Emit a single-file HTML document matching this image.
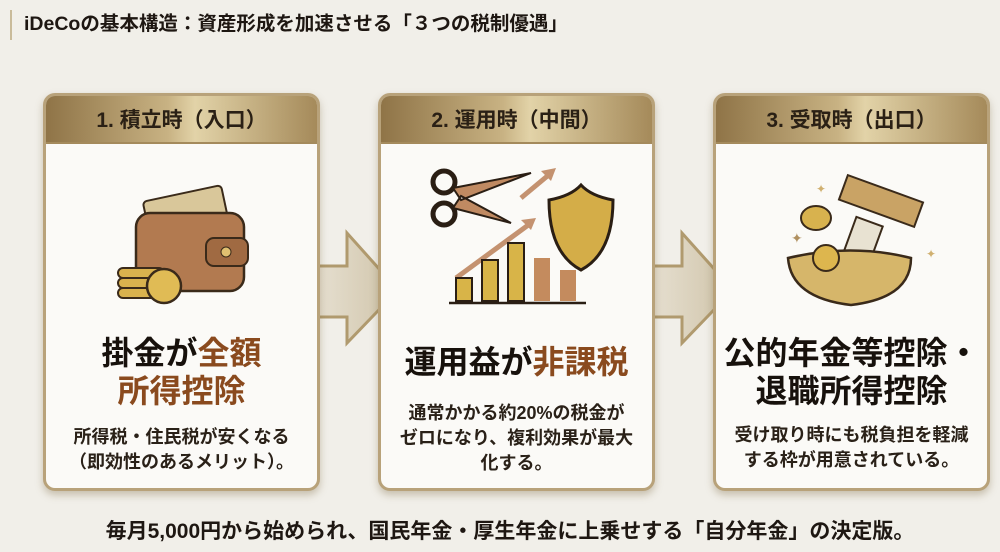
<!DOCTYPE html>
<html><head><meta charset="utf-8"><style>
*{margin:0;padding:0;box-sizing:border-box}
body{width:1000px;height:552px;background:#f1efe9;font-family:"Liberation Sans","Noto Sans CJK JP",sans-serif;position:relative;overflow:hidden;color:#1e1712}
.title{position:absolute;left:10px;top:10px;height:30px;border-left:2px solid #c9bb9a;padding-left:12px;font-size:19.5px;font-weight:bold;line-height:28px;color:#1e1712}
.card{position:absolute;top:93px;width:277px;height:398px;border-radius:12px;background:#fbfaf7;border:3px solid #b8a27a;box-shadow:0 4px 8px rgba(120,100,60,.35);overflow:hidden}
.hd{height:48px;background:linear-gradient(90deg,#8f7447,#c8b283 45%,#e2d3a8 55%,#a58a5a);text-align:center;font-size:21px;font-weight:bold;line-height:50px;color:#2a2015;border-bottom:2px solid #a48a5c}
.main{position:absolute;left:-10px;right:-10px;text-align:center;font-weight:bold;font-size:32px;line-height:38px;color:#17110c}
.main span{color:#8a4a1e}
.desc{position:absolute;left:-10px;right:-10px;text-align:center;font-size:18px;line-height:25px;font-weight:bold;color:#2a2118}
.ico{position:absolute;left:0;right:0;top:62px;height:150px}
.bottom{position:absolute;left:0;width:1020px;top:515px;text-align:center;font-size:21px;font-weight:bold}
</style></head><body>
<div class="title">iDeCoの基本構造：資産形成を加速させる「３つの税制優遇」</div>

<svg style="position:absolute;left:0;top:0" width="1000" height="552">
<defs><linearGradient id="ag" x1="0" x2="1"><stop offset="0" stop-color="#e8e2d4"/><stop offset="1" stop-color="#cfc3a8"/></linearGradient></defs>
<polygon points="310,266 347,266 347,233 398,290 347,343 347,317 310,317" fill="url(#ag)" stroke="#b09a6e" stroke-width="3"/>
<polygon points="645,266 682,266 682,233 733,290 682,343 682,317 645,317" fill="url(#ag)" stroke="#b09a6e" stroke-width="3"/>
</svg>

<div class="card" style="left:43px">
<div class="hd">1. 積立時（入口）</div>
<svg class="ico" viewBox="0 0 277 150">
<rect x="100" y="35" width="80" height="45" rx="4" fill="#d9c79a" stroke="#3a2a1a" stroke-width="2" transform="rotate(-12 140 55)"/>
<rect x="90" y="55" width="108" height="78" rx="14" fill="#b27a50" stroke="#3a2a1a" stroke-width="2.5"/>
<rect x="160" y="80" width="42" height="28" rx="8" fill="#a06a42" stroke="#3a2a1a" stroke-width="2"/>
<circle cx="180" cy="94" r="5" fill="#e0c070" stroke="#3a2a1a"/>
<rect x="72" y="110" width="46" height="10" rx="5" fill="#d9b24e" stroke="#3a2a1a" stroke-width="2"/>
<rect x="72" y="120" width="46" height="10" rx="5" fill="#d9b24e" stroke="#3a2a1a" stroke-width="2"/>
<rect x="72" y="130" width="46" height="10" rx="5" fill="#d9b24e" stroke="#3a2a1a" stroke-width="2"/>
<circle cx="118" cy="128" r="17" fill="#e0bb55" stroke="#3a2a1a" stroke-width="2.5"/>
</svg>
<div class="main" style="top:238px">掛金が<span>全額</span><br><span>所得控除</span></div>
<div class="desc" style="top:329px">所得税・住民税が安くなる<br>（即効性のあるメリット）。</div>
</div>

<div class="card" style="left:378px">
<div class="hd">2. 運用時（中間）</div>
<svg class="ico" viewBox="0 0 277 150">
<circle cx="63" cy="24" r="11" fill="none" stroke="#2a1e14" stroke-width="5"/>
<circle cx="63" cy="56" r="11" fill="none" stroke="#2a1e14" stroke-width="5"/>
<path d="M72 30 L150 15 L80 42Z M72 50 L130 65 L80 38Z" fill="#c08a62" stroke="#2a1e14" stroke-width="2"/>
<path d="M75 120 L150 65" stroke="#c49270" stroke-width="5"/><path d="M155 60 L140 62 L150 72Z" fill="#c49270"/>
<path d="M140 40 L170 15" stroke="#c49270" stroke-width="5"/><path d="M175 10 L160 13 L170 23Z" fill="#c49270"/>
<rect x="75" y="120" width="16" height="23" fill="#d8b448" stroke="#2a1e14" stroke-width="2"/>
<rect x="101" y="102" width="16" height="41" fill="#d8b448" stroke="#2a1e14" stroke-width="2"/>
<rect x="127" y="85" width="16" height="58" fill="#d8b448" stroke="#2a1e14" stroke-width="2"/>
<rect x="153" y="100" width="16" height="43" fill="#c48b5e"/>
<rect x="179" y="112" width="16" height="31" fill="#c48b5e"/>
<path d="M68 145 H205" stroke="#2a1e14" stroke-width="2.5"/>
<path d="M168 42 Q190 38 200 27 Q210 38 232 42 Q232 95 200 112 Q168 95 168 42Z" fill="#d4ad48" stroke="#2a1e14" stroke-width="3"/>
</svg>
<div class="main" style="top:247px">運用益が<span>非課税</span></div>
<div class="desc" style="top:305px">通常かかる約20%の税金が<br>ゼロになり、複利効果が最大<br>化する。</div>
</div>

<div class="card" style="left:713px">
<div class="hd">3. 受取時（出口）</div>
<svg class="ico" viewBox="0 0 277 150">
<rect x="125" y="30" width="80" height="26" fill="#c9a365" stroke="#3a2a1a" stroke-width="2" transform="rotate(20 165 43)"/>
<rect x="130" y="62" width="28" height="55" fill="#e8e2d2" stroke="#3a2a1a" stroke-width="2" transform="rotate(20 144 90)"/>
<ellipse cx="100" cy="60" rx="15" ry="12" fill="#d8b24e" stroke="#3a2a1a" stroke-width="2"/>
<path d="M72 100 Q135 85 195 100 Q195 140 135 147 Q75 140 72 100Z" fill="#d6b66a" stroke="#3a2a1a" stroke-width="2.5"/>
<circle cx="110" cy="100" r="13" fill="#ddb64e" stroke="#3a2a1a" stroke-width="2"/>
<text x="75" y="85" font-size="14" fill="#b09060">✦</text><text x="100" y="35" font-size="12" fill="#d0b070">✦</text><text x="210" y="100" font-size="12" fill="#d0b070">✦</text>
</svg>
<div class="main" style="top:238px">公的年金等控除・<br>退職所得控除</div>
<div class="desc" style="top:327px">受け取り時にも税負担を軽減<br>する枠が用意されている。</div>
</div>

<div class="bottom">毎月5,000円から始められ、国民年金・厚生年金に上乗せする「自分年金」の決定版。</div>
</body></html>
